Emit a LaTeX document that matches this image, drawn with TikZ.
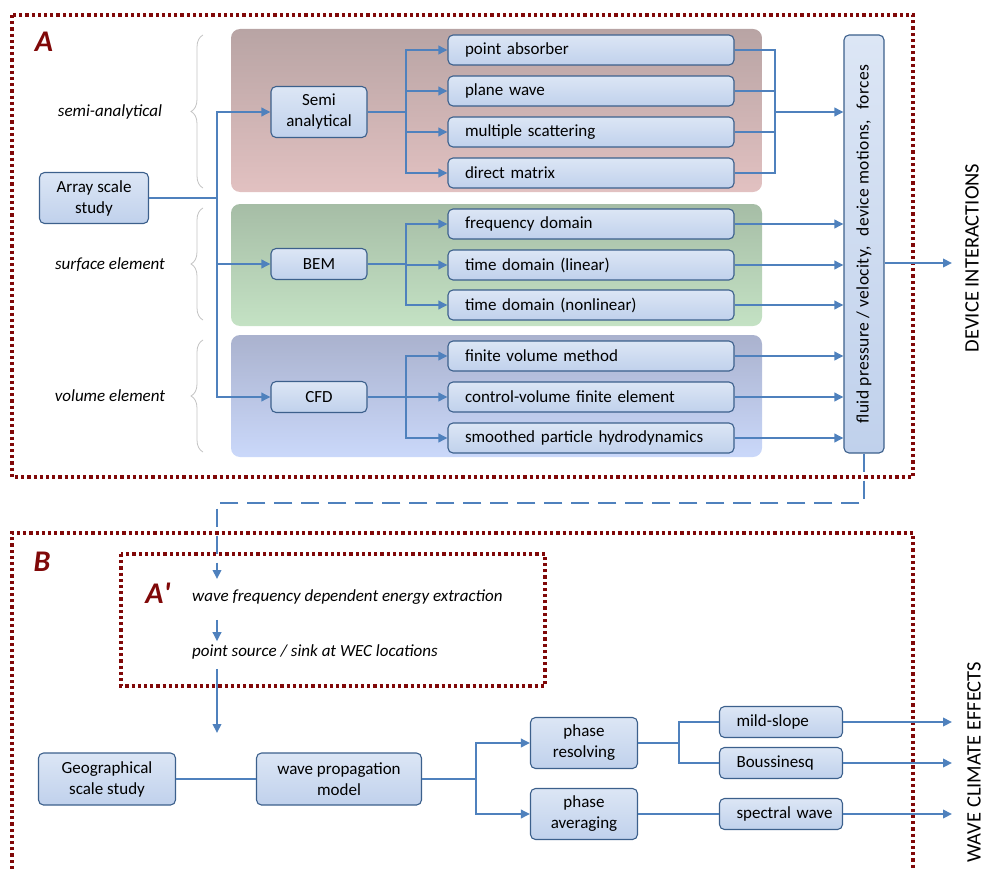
\documentclass[tikz,border=0pt]{standalone}
\usepackage{fontspec}
\setmainfont{Carlito}
\usetikzlibrary{arrows.meta,decorations.pathreplacing}

\definecolor{lineblue}{RGB}{79,129,189}
\definecolor{boxline}{RGB}{60,96,140}
\definecolor{boxtop}{RGB}{220,230,245}
\definecolor{boxbot}{RGB}{192,209,236}
\definecolor{darkred}{RGB}{128,8,8}
\definecolor{bracegray}{RGB}{195,195,195}
\definecolor{redtop}{RGB}{184,164,164}
\definecolor{redbot}{RGB}{226,193,193}
\definecolor{greentop}{RGB}{166,189,166}
\definecolor{greenbot}{RGB}{196,226,196}
\definecolor{bluetop}{RGB}{170,178,206}
\definecolor{bluebot}{RGB}{202,216,250}

\tikzset{
  box/.style={draw=boxline, line width=1.1pt, rounded corners=5pt,
    top color=boxtop, bottom color=boxbot, align=center, inner sep=0pt,
    font=\fontsize{17}{21}\selectfont},
  item/.style={box, text width=252pt, inner xsep=17pt, minimum height=30pt, align=left},
  smallitem/.style={box, text width=110pt, inner xsep=6.5pt, minimum height=31pt, align=left,
    execute at begin node={\hspace*{10.5pt}}},
  tag/.style={font=\fontsize{17}{20}\selectfont\itshape},
  bigtag/.style={font=\fontsize{30}{30}\selectfont\bfseries\itshape, text=darkred},
  side/.style={rotate=90, font=\fontsize{20.5}{22}\selectfont},
  panel/.style={rounded corners=9pt},
  dotbox/.style={draw=darkred, line width=3.2pt, dash pattern=on 3.2pt off 3pt},
  brace/.style={decorate, decoration={brace, amplitude=12pt}, draw=bracegray, line width=0.8pt},
  con/.style={draw=lineblue, line width=2pt},
  arr/.style={con, -{Triangle[length=9pt, width=8.5pt]}}
}

\begin{document}
\begin{tikzpicture}[x=1pt, y=-1pt]
  \useasboundingbox (0,0) rectangle (984,869);

  \draw[dotbox] (12,15) rectangle (913,477);
  \draw[dotbox] (12,869) |- (913,533) -- (913,869);
  \draw[dotbox] (121,554) rectangle (545,686);

  \node[bigtag] (labA) at (44,42) {A};
  \node[bigtag] (labB) at (42,562) {B};
  \node[bigtag] (labAp) at (158,593) {A\textquotesingle};

  \path[panel, top color=redtop, bottom color=redbot] (231,29) rectangle (762,192);
  \path[panel, top color=greentop, bottom color=greenbot] (231,204) rectangle (762,326);
  \path[panel, top color=bluetop, bottom color=bluebot] (231,335) rectangle (762,457);

  \draw[brace] (203,188) -- (203,35);
  \draw[brace] (203,320) -- (203,208);
  \draw[brace] (203,452) -- (203,340);
  \node[tag] (tsemi) at (110,112) {semi-analytical};
  \node[tag] (tsurf) at (110,265) {surface element};
  \node[tag] (tvol) at (110,396) {volume element};

  \node[box, minimum width=109pt, minimum height=51pt] (array) at (94,198) {Array scale\\study};
  \node[box, minimum width=96pt, minimum height=51pt] (semi) at (319,112) {Semi\\analytical};
  \node[box, minimum width=96pt, minimum height=31pt] (bem) at (319,264) {BEM};
  \node[box, minimum width=96pt, minimum height=31pt] (cfd) at (319,397) {CFD};

  \node[item] (pa) at (591,50) {point absorber};
  \node[item] (pw) at (591,91) {plane wave};
  \node[item] (ms) at (591,132) {multiple scattering};
  \node[item] (dm) at (591,173) {direct matrix};
  \node[item] (fd) at (591,224) {frequency domain};
  \node[item] (tdl) at (591,265) {time domain (linear)};
  \node[item] (tdn) at (591,305) {time domain (nonlinear)};
  \node[item] (fvm) at (591,356) {finite volume method};
  \node[item] (cvfe) at (591,397) {control-volume finite element};
  \node[item] (sph) at (591,438) {smoothed particle hydrodynamics};

  \node[box, rotate=90, minimum width=418pt, minimum height=40pt,
    font=\fontsize{17.5}{20}\selectfont\addfontfeature{LetterSpace=2}] (fluid) at (864,244)
    {fluid pressure / velocity,\hspace{6pt} device motions,\hspace{6pt} forces};
  \node[side] (devint) at (972,258) {DEVICE INTERACTIONS};

  \coordinate (tr) at (217,198);
  \coordinate (b1) at (406,112);
  \coordinate (b2) at (406,264);
  \coordinate (b3) at (406,397);
  \coordinate (col) at (775,112);
  \coordinate (outx) at (952,0);

  \draw[con] (array) -- (tr);
  \draw[arr] (tr) |- (semi);
  \draw[arr] (tr) |- (bem);
  \draw[arr] (tr) |- (cfd);

  \draw[con] (semi) -- (b1);
  \foreach \n in {pa,pw,ms,dm}
    \draw[arr] (b1) |- (\n.west);
  \foreach \n in {pa,pw,ms,dm}
    \draw[con] (\n.east) -| (col);
  \draw[arr] (col) -- (col -| fluid.north);

  \draw[con] (bem) -- (b2);
  \foreach \n in {fd,tdl,tdn}
    \draw[arr] (b2) |- (\n.west);
  \draw[con] (cfd) -- (b3);
  \foreach \n in {fvm,cvfe,sph}
    \draw[arr] (b3) |- (\n.west);
  \foreach \n in {fd,tdl,tdn,fvm,cvfe,sph}
    \draw[arr] (\n.east) -- (\n.east -| fluid.north);

  \draw[arr] (fluid.south |- 0,263) -- (outx |- 0,263);

  \coordinate (dk) at (217,503);
  \coordinate (a1) at (217,579);
  \coordinate (a2) at (217,733);
  \draw[arr, dash pattern=on 18pt off 9pt] (fluid.west) |- (dk) -- (a1);

  \node[tag, anchor=west, inner xsep=0pt] (wfd) at (192,597) {wave frequency dependent energy extraction};
  \node[tag, anchor=west, inner xsep=0pt] (psk) at (192,652) {point source / sink at WEC locations};
  \draw[arr, shorten <=12pt, shorten >=0pt] (wfd.south -| a1) -- (psk.north -| a1);
  \draw[arr, shorten <=6pt] (psk.south -| a1) -- (a2);

  \node[box, minimum width=137pt, minimum height=52pt] (geo) at (107,779) {Geographical\\scale study};
  \node[box, minimum width=165pt, minimum height=52pt] (wpm) at (339,779) {wave propagation\\model};
  \node[box, minimum width=107pt, minimum height=51pt] (pres) at (584,743) {phase\\resolving};
  \node[box, minimum width=107pt, minimum height=51pt] (pavg) at (584,814) {phase\\averaging};
  \node[smallitem] (mild) at (781,722) {mild-slope};
  \node[smallitem] (bous) at (781,763) {Boussinesq};
  \node[smallitem] (spec) at (781,814) {spectral wave};
  \node[side] (wce) at (974,762) {WAVE CLIMATE EFFECTS};

  \coordinate (wb) at (476,779);
  \coordinate (rb) at (679,743);
  \draw[con] (geo) -- (wpm);
  \draw[con] (wpm) -- (wb);
  \draw[arr] (wb) |- (pres);
  \draw[arr] (wb) |- (pavg);
  \draw[con] (pres) -- (rb);
  \draw[con] (rb) |- (mild);
  \draw[con] (rb) |- (bous);
  \draw[con] (pavg) -- (spec);
  \foreach \n in {mild,bous,spec}
    \draw[arr] (\n.east) -- (\n.east -| outx);
\end{tikzpicture}
\end{document}
